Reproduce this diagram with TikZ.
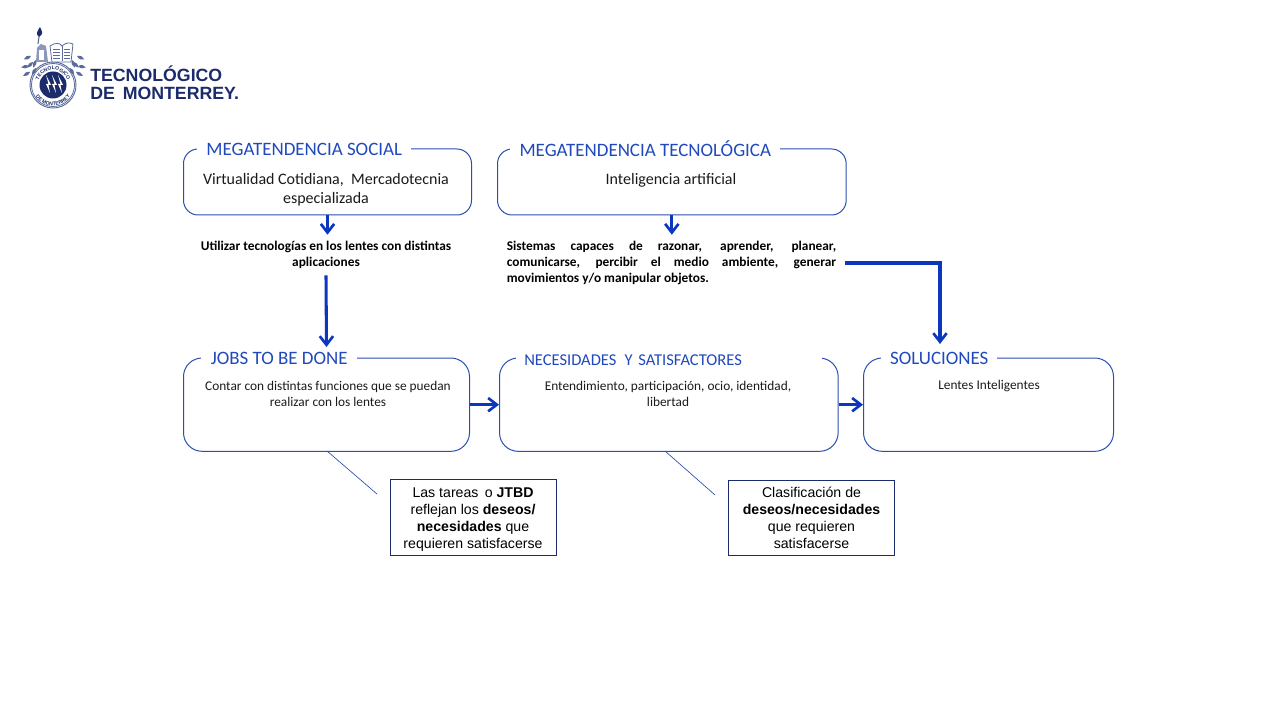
\documentclass[tikz,border=0pt]{standalone}
\usepackage{fontspec}
\setmainfont{Carlito}
\newfontfamily\arialf{Liberation Sans}
\usetikzlibrary{arrows.meta,calc,decorations.text}
\definecolor{linecol}{HTML}{2A4FB0}
\definecolor{arrcol}{HTML}{0B37BE}
\definecolor{titlecol}{HTML}{1F49BC}
\definecolor{textcol}{HTML}{1A1A1A}
\definecolor{navy}{HTML}{1B2B6B}
\definecolor{sealcol}{HTML}{5A6C9E}
\tikzset{
  x=0.75pt,y=-0.75pt,
  bigbox/.style={draw=linecol,line width=0.75pt,rounded corners=11pt,anchor=north west,inner sep=0pt},
  titlelabel/.style={fill=white,text=titlecol,anchor=west,inner sep=0pt,font=\fontsize{14.2}{15}\selectfont,minimum height=10pt},
  bodytext/.style={text=textcol,align=center,inner sep=0pt,anchor=north},
  boldtext/.style={text=black,font=\fontsize{10}{12}\selectfont\bfseries,inner sep=0pt},
  arrowline/.style={draw=arrcol,line width=2.3pt,-{Straight Barb[length=6.5pt,width=10pt,line width=2pt]}},
  callout/.style={draw=navy,line width=0.75pt,fill=white,align=center,inner sep=0pt,font=\arialf\fontsize{10.6}{12.6}\selectfont,text=black},
  pointer/.style={draw=linecol,line width=0.5pt},
  leaf/.style={fill=sealcol,draw=none},
}
\newcommand{\leafat}[3]{\fill[leaf,shift={(#1,#2)},rotate=#3] (0,0) .. controls (3,-2.4) and (6,-2) .. (8,0) .. controls (6,2) and (3,2.4) .. (0,0) -- cycle;}
\begin{document}
\begin{tikzpicture}
\useasboundingbox (0,0) rectangle (1280,720);
% boxes
\node[bigbox,minimum width=216pt,minimum height=49.5pt] (ms) at (183,148.5) {};
\node[bigbox,minimum width=261.5pt,minimum height=49.5pt] (mt) at (497,148.5) {};
\node[bigbox,rounded corners=14pt,minimum width=214.5pt,minimum height=70pt] (jobs) at (183,357.5) {};
\node[bigbox,rounded corners=14pt,minimum width=254pt,minimum height=70pt] (nec) at (499,357.5) {};
\node[bigbox,rounded corners=14pt,minimum width=187.5pt,minimum height=70pt] (sol) at (863,357.5) {};
% titles
\node[titlelabel,minimum width=160.5pt,align=center] (tms) at (197,149.5) {MEGATENDENCIA SOCIAL};
\node[titlelabel,minimum width=202.5pt,align=center] (tmt) at (510,149) {MEGATENDENCIA TECNOLÓGICA};
\node[titlelabel,minimum width=117pt,align=center] (tjobs) at (201,358.5) {JOBS TO BE DONE};
\node[titlelabel,minimum width=229.5pt,text width=229.5pt,align=left,font=\fontsize{12.4}{13}\selectfont] (tnec) at (516,360) {\hspace{6pt}NECESIDADES\, Y SATISFACTORES};
\node[titlelabel,minimum width=87pt,align=center] (tsol) at (881,358.5) {SOLUCIONES};
% body texts
\node[bodytext,font=\fontsize{12}{14.6}\selectfont] (bms) at (326,173) {Virtualidad Cotidiana,\ \ Mercadotecnia\\especializada};
\node[bodytext,font=\fontsize{12}{14.6}\selectfont] (bmt) at (671,173) {Inteligencia artificial};
\node[bodytext,font=\fontsize{10}{12}\selectfont] (bjobs) at (328,381) {Contar con distintas\ funciones que se puedan\\realizar con los lentes};
\node[bodytext,font=\fontsize{10}{12}\selectfont] (bnec) at (668,381) {Entendimiento,\ participación, ocio, identidad,\\libertad};
\node[bodytext,font=\fontsize{10}{12}\selectfont] (bsol) at (989,379.5) {Lentes Inteligentes};
% mid texts
\node[boldtext,align=center,minimum height=30pt] (t1) at (326,255) {Utilizar tecnologías\ en los lentes con distintas\\aplicaciones};
\node[boldtext,align=justify,text width=247pt,inner xsep=6.75pt,minimum height=42pt] (t2) at (671.5,263) {Sistemas capaces de razonar, aprender, planear,\linebreak comunicarse, percibir el medio ambiente, generar\linebreak movimientos y/o manipular objetos.};
% callouts
\node[callout,minimum width=124.5pt,minimum height=57pt] (c1) at (473,517) {\rule{0pt}{11pt}Las tareas\, o \textbf{JTBD}\\reflejan los \textbf{deseos/}\\\textbf{necesidades} que\\requieren satisfacerse};
\node[callout,minimum width=124.5pt,minimum height=56pt] (c2) at (811.5,518) {Clasificación de\\\textbf{deseos/necesidades}\\que requieren\\satisfacerse};
% connectors
\coordinate (solin) at (940,344);
\coordinate (jobsin) at (326.5,347);
\coordinate (p1a) at (327,451);
\coordinate (p1b) at (377,494);
\coordinate (p2a) at (665,451);
\coordinate (p2b) at (715,495);
\draw[arrowline] (ms.south) -- (ms.south |- t1.north);
\draw[arrowline] (mt.south) -- (mt.south |- t2.north);
\draw[arrowline] (t1.south) -- (jobsin);
\draw[arrowline] (t2.east) -| (solin);
\draw[arrowline] (jobs.east) -- (nec.west);
\draw[arrowline] (nec.east) -- (sol.west);
\draw[pointer] (p1a) -- (p1b);
\draw[pointer] (p2a) -- (p2b);
% logo
\node[text=navy,anchor=west,inner sep=0pt,font=\arialf\bfseries\fontsize{13.3}{13.5}\selectfont,align=left] (logotext) at (90,83) {TECNOLÓGICO\\DE\, MONTERREY\textbf{.}};
\draw[sealcol,line width=0.7pt,fill=white] (53,85) circle[radius=23];
\draw[sealcol,line width=0.6pt] (53,85) circle[radius=21.5];
\fill[navy] (53,85) circle[radius=13.5];
\foreach \a in {46,52,58}{\fill[white] (\a,75) -- (\a+2.5,84) -- (\a,84) -- (\a+4,93) -- (\a+2.5,85) -- (\a+5,85) -- cycle;}
\path[decorate,decoration={text along path,text align=center,text={|\arialf\bfseries\fontsize{3.8}{5}\selectfont\color{navy}|TECNOLOGICO}}]
  (38,85) arc[start angle=180,end angle=360,radius=15];
\path[decorate,decoration={text along path,text align=center,text={|\arialf\bfseries\fontsize{3.8}{5}\selectfont\color{navy}|DE MONTERREY}}]
  (32.5,85) arc[start angle=180,end angle=0,radius=20.5];
% book
\draw[sealcol,line width=0.6pt,fill=white] (50,46) .. controls (56,42) and (60,43) .. (62,46) .. controls (65,43) and (69,42) .. (73,44) -- (71,62) -- (52,62) -- cycle;
\draw[sealcol,line width=0.5pt] (62,46) -- (62,61);
\foreach \y in {49,52,55,58}{\draw[sealcol,line width=0.35pt] (53,\y) -- (60,\y) (64,\y) -- (70,\y);}
% figure and torch
\fill[sealcol!70] (36,62) -- (37,48) -- (41,44) -- (46,46) -- (48,62) -- cycle;
\fill[white] (39,50) rectangle (44,60);
\draw[sealcol,line width=0.8pt] (38,44) -- (39,37);
\fill[navy] (39,37) .. controls (35,34) and (38,30) .. (40,27) .. controls (42,31) and (44,34) .. (39,37) -- cycle;
% laurels
\leafat{30}{72}{-150}\leafat{29}{66}{-170}\leafat{33}{62}{-135}\leafat{31}{56}{-155}\leafat{36}{68}{-120}\leafat{36}{60}{-110}
\leafat{76}{72}{-30}\leafat{78}{66}{-10}\leafat{73}{62}{-45}\leafat{77}{56}{-25}\leafat{70}{68}{-60}\leafat{72}{60}{-70}
\end{tikzpicture}
\end{document}
